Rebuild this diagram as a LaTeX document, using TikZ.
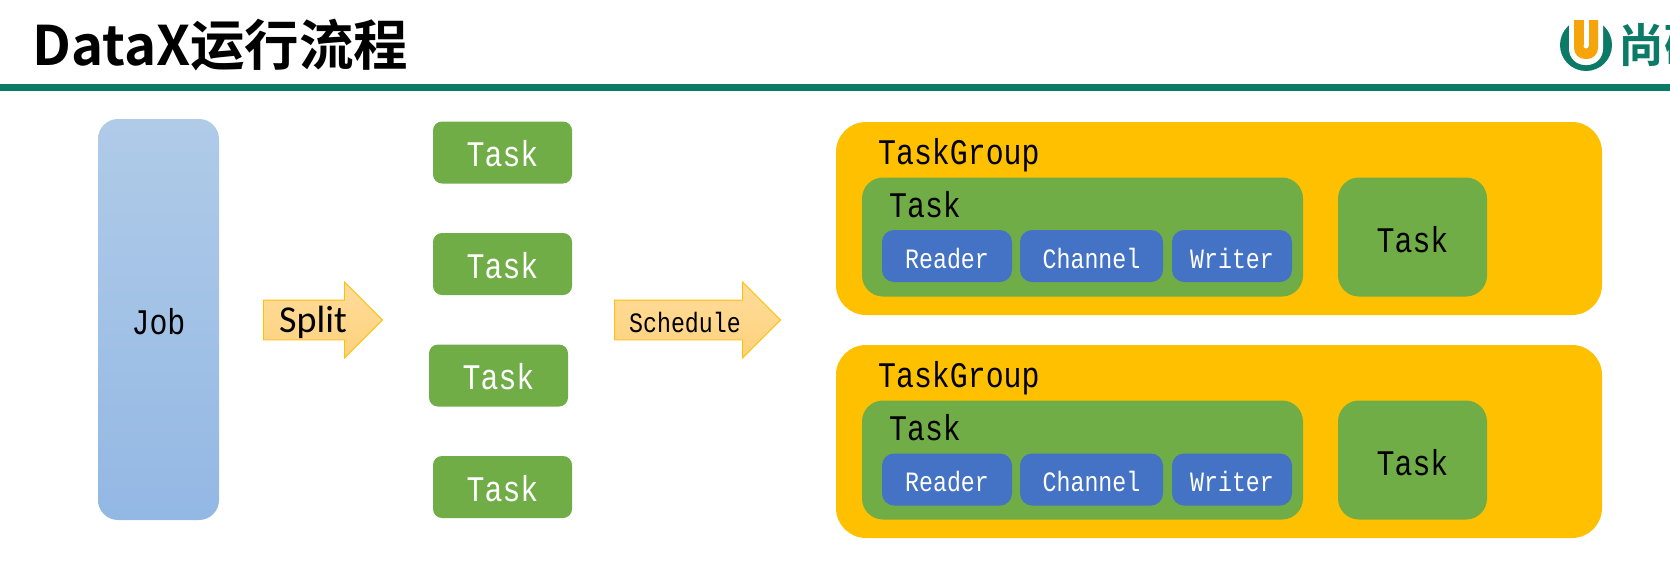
\documentclass[tikz,border=0pt]{standalone}
\usepackage{fontspec}
\usetikzlibrary{shapes.arrows}
\newfontfamily\titlefont{Noto Sans CJK SC}[BoldFont={* Bold}]
\newfontfamily\heifont[FakeStretch=0.83]{Liberation Mono}
\newfontfamily\splitfont{Carlito}
\definecolor{linegreen}{HTML}{0B7A66}
\definecolor{taskgreen}{HTML}{70AD47}
\definecolor{groupgold}{HTML}{FFC000}
\definecolor{boxblue}{HTML}{4472C4}
\definecolor{logoorange}{HTML}{F5A40C}
\definecolor{jobtop}{HTML}{B0CBE8}
\definecolor{jobbottom}{HTML}{93B8E4}
\definecolor{arrowtop}{HTML}{FFDC9C}
\definecolor{arrowbottom}{HTML}{FED27C}
\tikzset{
 box/.style={rectangle,inner sep=0pt,outer sep=0pt},
 taskbox/.style={box,fill=taskgreen,rounded corners=9pt,minimum width=139pt,minimum height=62pt},
 groupbox/.style={box,fill=groupgold,rounded corners=30pt,minimum width=766pt,minimum height=193pt},
 outerbox/.style={box,fill=taskgreen,rounded corners=21pt,minimum width=441pt,minimum height=119pt},
 sidebox/.style={box,fill=taskgreen,rounded corners=21pt,minimum width=149pt,minimum height=119pt},
 bluebox/.style={box,fill=boxblue,rounded corners=12pt,minimum height=52pt},
 bigarrow/.style={single arrow,single arrow head extend=18pt,single arrow tip angle=90,
  inner xsep=0pt,inner ysep=19.5pt,outer sep=0pt,draw=groupgold,line width=0.8pt,top color=arrowtop,bottom color=arrowbottom},
 bigtext/.style={font=\heifont\fontsize{36}{36}\selectfont,text height=28pt,text depth=0pt},
 smalltext/.style={font=\heifont\fontsize{28}{28}\selectfont,text height=24pt,text depth=0pt}
}
\begin{document}
\begin{tikzpicture}[x=1pt,y=-1pt]
 \useasboundingbox (0,0) rectangle (1670,568);
 \clip (0,0) rectangle (1670,568);
 % header
 \node[anchor=base west,inner sep=0pt,font=\titlefont\bfseries\fontsize{54.5}{54.5}\selectfont] (title) at (32,65) {DataX运行流程};
 \fill[linegreen] (0,84) rectangle (1670,91);
 % logo
 \fill[linegreen] (1586,45) circle (26);
 \fill[white,rounded corners=16pt] (1569,-30) rectangle (1603,65);
 \fill[logoorange,rounded corners=11pt] (1574,-10) rectangle (1598,59);
 \fill[white] (1560,0) rectangle (1610,20);
 \fill[white] (1583.5,20) rectangle (1588.5,46) ;
 \fill[white] (1586,46) circle (2.5);
 \node[anchor=base west,inner sep=0pt,text=linegreen,font=\titlefont\bfseries\fontsize{46}{46}\selectfont] (brand) at (1618,62) {尚硅};
 % job
 \node[box,rounded corners=20pt,minimum width=121pt,minimum height=401pt,top color=jobtop,bottom color=jobbottom,bigtext,text height=30pt] (job) at (158.5,319.5) {Job};
 % tasks
 \node[taskbox,text=white,bigtext] (taskA) at (502.5,152.5) {Task};
 \node[taskbox,text=white,bigtext] (taskB) at (502.5,264) {Task};
 \node[taskbox,text=white,bigtext] (taskC) at (498.5,375.5) {Task};
 \node[taskbox,text=white,bigtext] (taskD) at (502.5,487) {Task};
 % arrows
 \node[bigarrow,minimum height=119pt] (splitarrow) at (313,320) {};
 \node[inner sep=0pt,font=\splitfont\fontsize{38}{38}\selectfont] (split) at (313,322) {Split};
 \node[bigarrow,minimum height=166pt] (schedarrow) at (687.5,320) {};
 \node[smalltext,inner sep=0pt] (sched) at (685,320) {Schedule};
 % first group
 \node[groupbox] (groupA) at (1219,218.5) {};
 \node[anchor=west,inner sep=0pt,bigtext] (labelA) at (878,150) {TaskGroup};
 \node[outerbox] (outerA) at (1082.5,237) {};
 \node[anchor=west,inner sep=0pt,bigtext] (titleA) at (889,203) {Task};
 \node[bluebox,minimum width=130pt,text=white,smalltext] (readerA) at (947,256) {Reader};
 \node[bluebox,minimum width=143pt,text=white,smalltext] (channelA) at (1091.5,256) {Channel};
 \node[bluebox,minimum width=120pt,text=white,smalltext] (writerA) at (1232,256) {Writer};
 \node[sidebox,bigtext,text height=31pt] (sideA) at (1412.5,237) {Task};
 % second group
 \node[groupbox] (groupB) at (1219,441.5) {};
 \node[anchor=west,inner sep=0pt,bigtext] (labelB) at (878,373) {TaskGroup};
 \node[outerbox] (outerB) at (1082.5,460) {};
 \node[anchor=west,inner sep=0pt,bigtext] (titleB) at (889,426) {Task};
 \node[bluebox,minimum width=130pt,text=white,smalltext] (readerB) at (947,479.5) {Reader};
 \node[bluebox,minimum width=143pt,text=white,smalltext] (channelB) at (1091.5,479.5) {Channel};
 \node[bluebox,minimum width=120pt,text=white,smalltext] (writerB) at (1232,479.5) {Writer};
 \node[sidebox,bigtext,text height=31pt] (sideB) at (1412.5,460) {Task};
\end{tikzpicture}
\end{document}
